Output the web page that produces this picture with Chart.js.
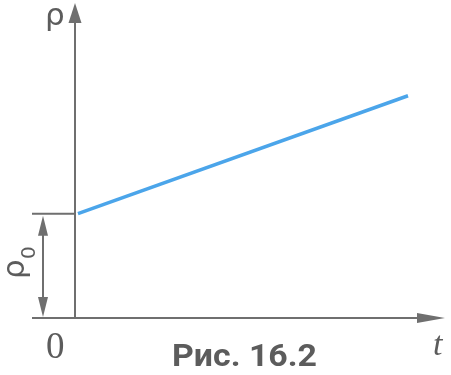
<!DOCTYPE html>
<html>
<head>
<meta charset="utf-8">
<script src="https://cdn.jsdelivr.net/npm/chart.js@4.4.0/dist/chart.umd.min.js"></script>
<style>
  html, body { margin: 0; padding: 0; background: #fff; }
  #wrap { width: 451px; height: 375px; position: relative; }
</style>
</head>
<body>
<div id="wrap"><canvas id="fig"></canvas></div>
<script>
// time values and resistance values of the straight line
const times = [0.08, 9.0];
const rho = [1.0, 2.13];
const rho0 = rho[0];
const caption = 'Рис. 16.2';

const axisColor = '#6f6f6f';
const textColor = '#5c5c5c';

function arrowHead(c, x, y, dir, len, half) {
    // dir: 'up', 'down', 'right'
    c.beginPath();
    if (dir === 'up') { c.moveTo(x, y); c.lineTo(x - half, y + len); c.lineTo(x + half, y + len); }
    if (dir === 'down') { c.moveTo(x, y); c.lineTo(x - half, y - len); c.lineTo(x + half, y - len); }
    if (dir === 'right') { c.moveTo(x, y); c.lineTo(x - len, y - half); c.lineTo(x - len, y + half); }
    c.closePath();
    c.fill();
}

const axesPlugin = {
    id: 'axesPlugin',
    beforeDatasetsDraw(chart) {
        const c = chart.ctx, xs = chart.scales.x, ys = chart.scales.y;
        const x0 = xs.getPixelForValue(0), y0 = ys.getPixelForValue(0);
        const yr = ys.getPixelForValue(rho0);
        c.save();
        c.strokeStyle = axisColor;
        c.fillStyle = axisColor;
        c.lineWidth = 2;
        // axes
        c.beginPath();
        c.moveTo(x0, y0); c.lineTo(x0, chart.chartArea.top + 14);
        c.moveTo(32, y0); c.lineTo(chart.chartArea.right - 20, y0);
        // rho0 level
        c.moveTo(32, yr); c.lineTo(x0, yr);
        c.stroke();
        arrowHead(c, x0, chart.chartArea.top - 2, 'up', 20, 6.5);
        arrowHead(c, chart.chartArea.right, y0, 'right', 28, 5);
        // double arrow for rho0
        c.beginPath();
        c.moveTo(43, yr + 15); c.lineTo(43, y0 - 15);
        c.stroke();
        arrowHead(c, 43, yr + 2, 'up', 20, 5);
        arrowHead(c, 43, y0 - 1, 'down', 20, 5);
        // texts
        c.fillStyle = textColor;
        c.textBaseline = 'alphabetic';
        c.font = '31px "DejaVu Sans"';
        c.fillText('ρ', 45, 25);
        c.font = '37px "Liberation Serif"';
        c.fillText('0', 46, 358);
        c.font = 'italic 34px "Liberation Serif"';
        c.fillText('t', 433, 355);
        // caption, squeezed to the printed width
        c.font = 'bold 31px Roboto';
        const w = c.measureText(caption).width;
        c.save();
        c.translate(172, 366);
        c.scale(145 / w, 1);
        c.fillText(caption, 0, 0);
        c.restore();
        // rotated rho0
        c.save();
        c.translate(24, 279);
        c.rotate(-Math.PI / 2);
        c.font = '31px "DejaVu Sans"';
        c.fillText('ρ', 0, 0);
        c.font = '20px "DejaVu Sans"';
        c.fillText('0', 20, 11);
        c.restore();
        c.restore();
    }
};

new Chart(document.getElementById('fig'), {
    type: 'scatter',
    data: {
        datasets: [{
            data: times.map((t, i) => ({ x: t, y: rho[i] })),
            showLine: true,
            borderColor: '#4ba5ea',
            borderWidth: 3.5,
            pointRadius: 0,
            fill: false
        }]
    },
    options: {
        responsive: true,
        maintainAspectRatio: false,
        animation: false,
        layout: { padding: { left: 75, right: 6, top: 5, bottom: 57 } },
        scales: {
            x: { type: 'linear', min: 0, max: 10, display: false },
            y: { type: 'linear', min: 0, max: 3, display: false }
        },
        plugins: { legend: { display: false }, tooltip: { enabled: false } }
    },
    plugins: [axesPlugin]
});
</script>
</body>
</html>
